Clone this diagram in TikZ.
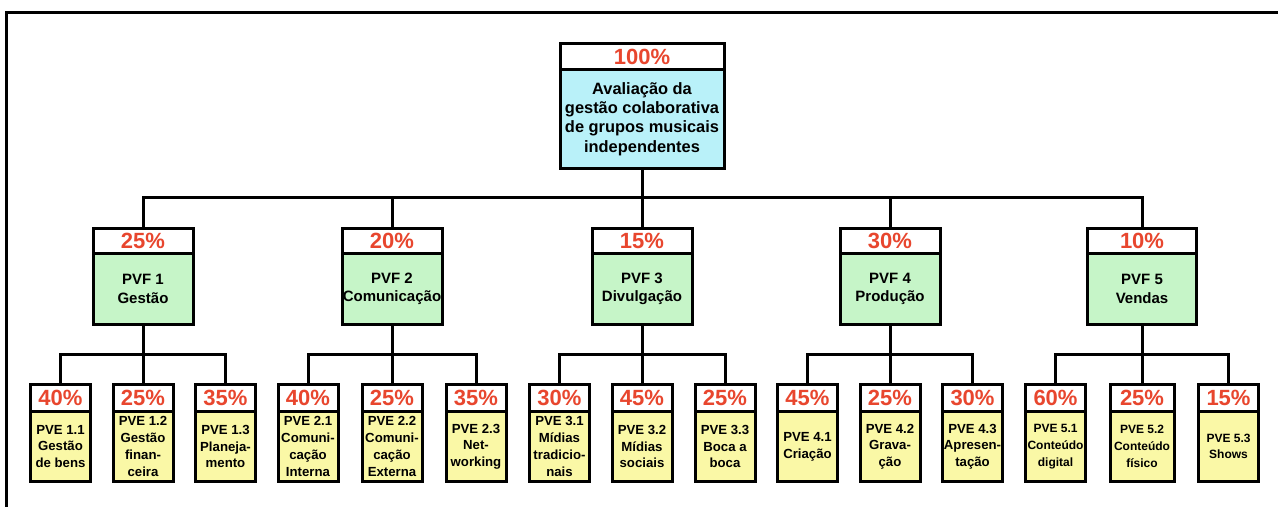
\documentclass[tikz,border=0pt]{standalone}
\usepackage{fontspec}
\setmainfont{Liberation Sans}
\usepackage{tikz}
\usetikzlibrary{positioning}
\definecolor{pctred}{HTML}{E8462E}
\definecolor{rootcyan}{HTML}{B9F1F9}
\definecolor{pvfgreen}{HTML}{C6F5C8}
\definecolor{pveyellow}{HTML}{FAF8A6}
\tikzset{
  box/.style={draw, line width=1.5pt, outer sep=0pt, inner sep=0pt, align=center},
  pct/.style={box, fill=white, text=pctred, font=\bfseries\fontsize{11}{13}\selectfont},
  rootbox/.style={box, fill=rootcyan, minimum width=82pt, minimum height=49.5pt,
    font=\bfseries\fontsize{8.2}{9.65}\selectfont},
  pvfbox/.style={box, fill=pvfgreen, minimum height=35.5pt,
    font=\bfseries\fontsize{7.5}{9.15}\selectfont},
  pvebox/.style={box, fill=pveyellow, minimum height=35pt,
    font=\bfseries\fontsize{6.6}{8.35}\selectfont},
  pvesmall/.style={pvebox, font=\bfseries\fontsize{6}{8.35}\selectfont},
  link/.style={line width=1.5pt}
}
\begin{document}
\begin{tikzpicture}[x=0.5pt, y=-0.5pt]
\useasboundingbox (0,0) rectangle (1278,507);
% Frame
\draw[line width=1.6pt] (6.2,520) -- (6.2,12.5) -- (1290,12.5);
% Root
\node[pct, minimum width=82pt, minimum height=13pt] (rp) at (642,56.5) {100\%};
\node[rootbox, below=0pt of rp] (r) {Avaliação da\\gestão colaborativa\\de grupos musicais\\independentes};
% PVF level
\foreach \f/\x/\w/\p/\txt in {1/143/50/25/{PVF 1\\Gestão}, 2/392/50/20/{PVF 2\\Comunicação},
    3/642/50/15/{PVF 3\\Divulgação}, 4/890/50/30/{PVF 4\\Produção}, 5/1142/54.5/10/{PVF 5\\Vendas}}{
  \node[pct, minimum width=\w pt, minimum height=12.5pt] (q\f) at (\x,241) {\p\%};
  \node[pvfbox, minimum width=\w pt, below=0pt of q\f] (f\f) {\txt};
}
% PVE level
\foreach \n/\x/\p/\txt in {11/60.5/40/{PVE 1.1\\Gestão\\de bens}, 12/143/25/{PVE 1.2\\Gestão\\finan-\\ceira},
    13/225.5/35/{PVE 1.3\\Planeja-\\mento}, 21/308/40/{PVE 2.1\\Comuni-\\cação\\Interna},
    22/392/25/{PVE 2.2\\Comuni-\\cação\\Externa}, 23/476/35/{PVE 2.3\\Net-\\working},
    31/559.5/30/{PVE 3.1\\Mídias\\tradicio-\\nais}, 32/642/45/{PVE 3.2\\Mídias\\sociais},
    33/725/25/{PVE 3.3\\Boca a\\boca}, 41/807.5/45/{PVE 4.1\\Criação},
    42/890/25/{PVE 4.2\\Grava-\\ção}, 43/972.5/30/{PVE 4.3\\Apresen-\\tação}}{
  \node[pct, minimum width=30pt, minimum height=13.5pt] (p\n) at (\x,398) {\p\%};
  \node[pvebox, minimum width=30pt, below=0pt of p\n] (e\n) {\txt};
}
\foreach \n/\x/\w/\p/\txt in {51/1055.5/30/60/{PVE 5.1\\Conteúdo\\digital},
    52/1142/32/25/{PVE 5.2\\Conteúdo\\físico}, 53/1228.5/30/15/{PVE 5.3\\Shows}}{
  \node[pct, minimum width=\w pt, minimum height=13.5pt] (p\n) at (\x,398) {\p\%};
  \node[pvesmall, minimum width=\w pt, below=0pt of p\n] (e\n) {\txt};
}
% Connectors
\foreach \f in {1,...,5}{
  \draw[link] (r.south) -- ++(0,29.5) -| (q\f.north);
  \foreach \e in {1,2,3}{
    \draw[link] (f\f.south) -- ++(0,29.5) -| (p\f\e.north);
  }
}
\end{tikzpicture}
\end{document}
